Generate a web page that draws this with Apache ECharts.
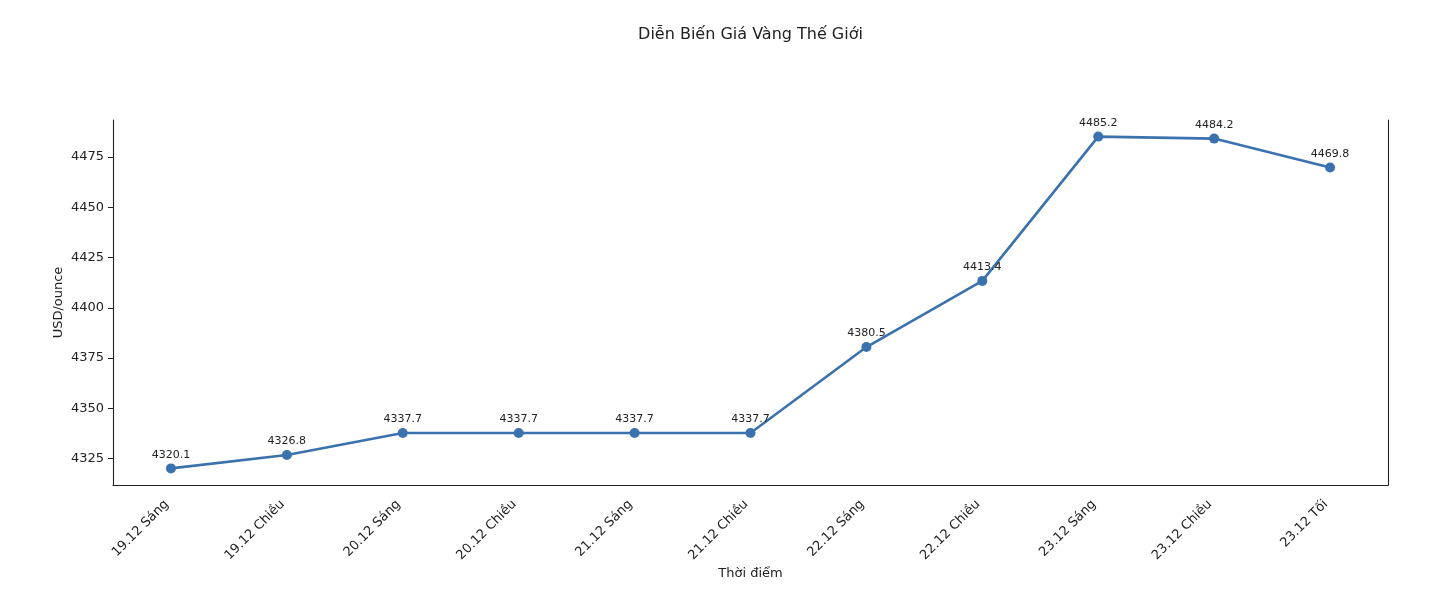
<!DOCTYPE html>
<html>
<head>
<meta charset="utf-8">
<script src="https://cdn.jsdelivr.net/npm/echarts@6/dist/echarts.min.js"></script>
<style>
html,body{margin:0;padding:0;background:#fff;}
#chart{width:1436px;height:596px;}
</style>
</head>
<body>
<div id="chart"></div>
<script>
const categories = ["19.12 Sáng","19.12 Chiều","20.12 Sáng","20.12 Chiều","21.12 Sáng","21.12 Chiều","22.12 Sáng","22.12 Chiều","23.12 Sáng","23.12 Chiều","23.12 Tối"];
const prices = [4320.1, 4326.8, 4337.7, 4337.7, 4337.7, 4337.7, 4380.5, 4413.4, 4485.2, 4484.2, 4469.8];
const yTicks = [4325, 4350, 4375, 4400, 4425, 4450, 4475];

const FONT = 'DejaVu Sans';
const lo = Math.min(...prices), hi = Math.max(...prices);
const pad = (hi - lo) * 0.05;

const chart = echarts.init(document.getElementById('chart'), null, {renderer:'canvas'});
chart.setOption({
  animation: false,
  backgroundColor: '#ffffff',
  textStyle: {fontFamily: FONT},
  title: {
    text: 'Diễn Biến Giá Vàng Thế Giới',
    left: 745.5,
    textAlign: 'center',
    top: 22,
    textStyle: {fontFamily: FONT, fontSize: 16, fontWeight: 'normal', color: '#222'}
  },
  grid: {left: 113, right: 48, top: 120, bottom: 111},
  xAxis: {
    type: 'category',
    data: categories,
    boundaryGap: true,
    name: 'Thời điểm',
    nameLocation: 'middle',
    nameGap: 82,
    nameMoveOverlap: false,
    nameTextStyle: {fontFamily: FONT, fontSize: 13, color: '#222'},
    axisLine: {lineStyle: {color: '#222', width: 1.1}},
    axisTick: {alignWithLabel: true, length: 5, lineStyle: {color: '#222'}},
    axisLabel: {rotate: 45, fontSize: 13, color: '#222', margin: 13, padding: [0, 6, 0, 0], interval: 0, fontFamily: FONT},
    splitLine: {show: false}
  },
  yAxis: [{
    type: 'value',
    min: lo - pad,
    max: hi + pad,
    name: 'USD/ounce',
    nameLocation: 'middle',
    nameGap: 48,
    nameMoveOverlap: false,
    nameTextStyle: {fontFamily: FONT, fontSize: 13, color: '#222'},
    axisLine: {show: true, lineStyle: {color: '#222', width: 1.1}},
    axisTick: {show: true, length: 5, customValues: yTicks, lineStyle: {color: '#222'}},
    axisLabel: {fontSize: 13, color: '#222', margin: 9, customValues: yTicks, fontFamily: FONT, formatter: v => String(Math.round(v))},
    splitLine: {show: false}
  }, {
    type: 'value',
    position: 'right',
    min: lo - pad,
    max: hi + pad,
    axisLine: {show: true, lineStyle: {color: '#222', width: 1.1}},
    axisTick: {show: false},
    axisLabel: {show: false},
    splitLine: {show: false}
  }],
  series: [{
    type: 'line',
    data: prices,
    yAxisIndex: 0,
    symbol: 'circle',
    symbolSize: 10,
    lineStyle: {color: '#3b72ae', width: 2.6},
    itemStyle: {color: '#3b72ae'},
    label: {
      show: true,
      position: 'top',
      distance: 3,
      fontSize: 11,
      color: '#222',
      fontFamily: FONT,
      formatter: p => p.value.toFixed(1)
    }
  }]
});
</script>
</body>
</html>
